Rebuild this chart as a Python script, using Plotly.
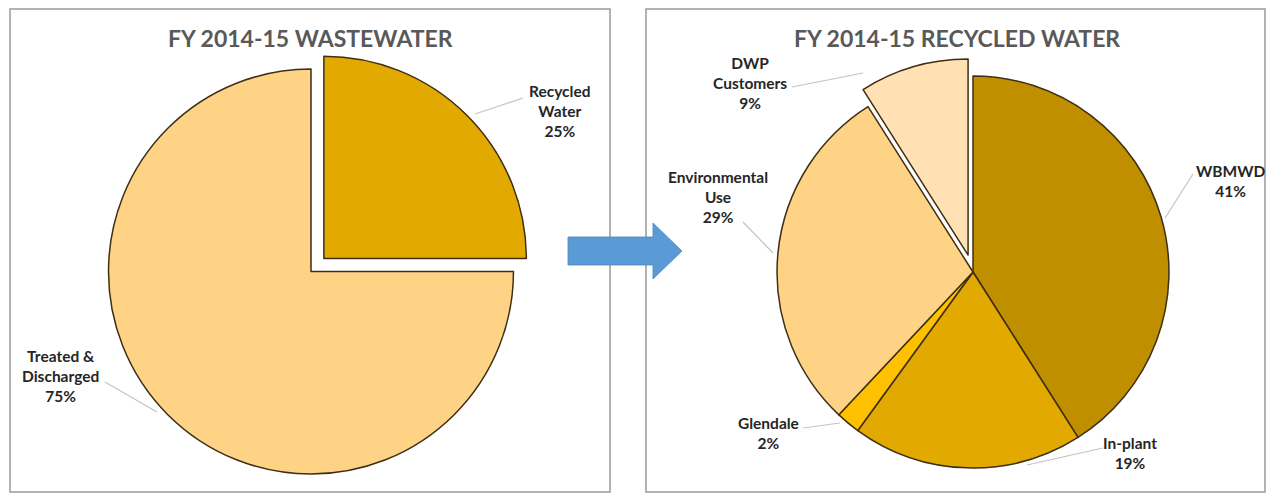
import plotly.graph_objects as go

W, H = 1270, 493

# ---- data ----
left_labels = ["Recycled Water", "Treated & Discharged"]
left_values = [25, 75]
left_colors = ["#E2A900", "#FFD386"]
left_pull = [0.09, 0]

right_labels = ["WBMWD", "In-plant", "Glendale", "Environmental Use", "DWP Customers"]
right_values = [41, 19, 2, 29, 9]
right_colors = ["#BF8F00", "#E2A900", "#FFC000", "#FFD386", "#FFE1B4"]
right_pull = [0, 0, 0, 0, 0.09]

left_title = "FY 2014-15 WASTEWATER"
right_title = "FY 2014-15 RECYCLED WATER"


def px(x):
    return x / W


def py(y):
    return 1 - y / H


OUTLINE = "#3d2e14"
FONT = "Lato"

fig = go.Figure()

fig.add_trace(go.Pie(
    labels=left_labels, values=left_values, sort=False, direction="clockwise",
    rotation=0, pull=left_pull, textinfo="none", hoverinfo="label+percent",
    marker=dict(colors=left_colors, line=dict(color=OUTLINE, width=1.5)),
    domain=dict(x=[px(90.3), px(531.7)], y=[py(492.2), py(50.8)]),
    showlegend=False,
))

fig.add_trace(go.Pie(
    labels=right_labels, values=right_values, sort=False, direction="clockwise",
    rotation=0, pull=right_pull, textinfo="none", hoverinfo="label+percent",
    marker=dict(colors=right_colors, line=dict(color=OUTLINE, width=1.5)),
    domain=dict(x=[px(759.4), px(1186.6)], y=[py(485.6), py(58.4)]),
    showlegend=False,
))

shapes = []
# panel borders
for x0, x1 in [(10, 610), (646, 1265)]:
    shapes.append(dict(type="rect", xref="paper", yref="paper",
                       x0=px(x0), x1=px(x1), y0=py(492), y1=py(9),
                       line=dict(color="#9a9a9a", width=1.5), layer="below"))

# arrow
pts = [(568, 237), (653, 237), (653, 223), (682, 251), (653, 279), (653, 265), (568, 265)]
path = "M " + " L ".join(f"{px(a):.5f},{py(b):.5f}" for a, b in pts) + " Z"
shapes.append(dict(type="path", xref="paper", yref="paper", path=path,
                   fillcolor="#5B9BD5", line=dict(color="#4A86C5", width=0.8)))

# leader lines: (from label side) -> (to pie edge)
leaders = [
    ((523, 98), (475, 114)),
    ((105, 382), (157, 412)),
    ((792, 87), (863, 73)),
    ((743, 222), (773, 253)),
    ((1193, 174), (1165, 218)),
    ((1103, 448), (1027, 465)),
    ((803, 428), (840, 423)),
]
for (a, b), (c, d) in leaders:
    shapes.append(dict(type="line", xref="paper", yref="paper",
                       x0=px(a), y0=py(b), x1=px(c), y1=py(d),
                       line=dict(color="#c4c4c4", width=1.2)))

annotations = []
# titles
for text, x in [(left_title, 310), (right_title, 957)]:
    annotations.append(dict(text=text, x=px(x), y=py(38), xref="paper", yref="paper",
                            showarrow=False, xanchor="center", yanchor="middle",
                            font=dict(family=FONT, size=23, color="#595959", weight="bold")))

# labels (text, center x, center y)
label_pos = [
    ("Recycled<br>Water<br>" + f"{left_values[0]}%", 560, 111),
    ("Treated &amp;<br>Discharged<br>" + f"{left_values[1]}%", 60, 376),
    ("WBMWD<br>" + f"{right_values[0]}%", 1230, 181),
    ("In-plant<br>" + f"{right_values[1]}%", 1130, 453),
    ("Glendale<br>" + f"{right_values[2]}%", 768, 433),
    ("Environmental<br>Use<br>" + f"{right_values[3]}%", 718, 197),
    ("DWP<br>Customers<br>" + f"{right_values[4]}%", 750, 83),
]
for text, x, y in label_pos:
    annotations.append(dict(text=text, x=px(x), y=py(y), xref="paper", yref="paper",
                            showarrow=False, xanchor="center", yanchor="middle",
                            align="center",
                            font=dict(family=FONT, size=15.5, color="#262626", weight="bold")))

fig.update_layout(
    width=W, height=H,
    margin=dict(l=0, r=0, t=0, b=0),
    paper_bgcolor="white", plot_bgcolor="white",
    shapes=shapes, annotations=annotations,
)

fig.write_html("out.html")
